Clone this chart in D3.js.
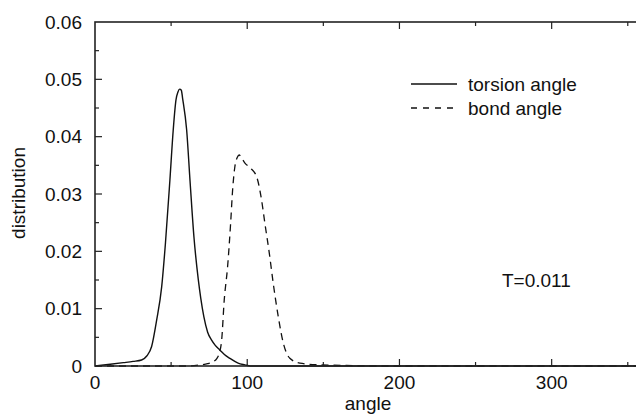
<!DOCTYPE html>
<html>
<head>
<meta charset="utf-8">
<script src="https://cdn.jsdelivr.net/npm/d3@7"></script>
<style>
  html, body { margin: 0; padding: 0; background: #fff; }
  svg { display: block; }
  text { font-family: "Liberation Sans", Arial, Helvetica, sans-serif; fill: #111; }
</style>
</head>
<body>
<div id="chart"></div>
<script>
// Torsion angle distribution (solid line).
const torsionX = [0, 10, 18.6, 25, 30.6, 34, 37.2, 40.5, 43.8, 46.3, 49.2, 51.4, 53.2, 54.5, 55.6, 56.7,
  57.6, 60.2, 62.4, 65, 67.8, 69.5, 71.5, 74, 76.6, 79, 82, 85, 88.6, 94, 98.5, 102, 360];
const torsionY = [0, 0.0003, 0.00058, 0.0008, 0.00105, 0.00174, 0.0034, 0.008, 0.0138, 0.0215, 0.0324, 0.0412, 0.0464, 0.0478, 0.0483, 0.0481,
  0.0466, 0.0412, 0.0324, 0.0225, 0.0152, 0.0118, 0.0086, 0.0059, 0.0045, 0.0036, 0.0028, 0.002, 0.00134, 0.0005, 0.0002, 0, 0];

// Bond angle distribution (dashed line).
const bondX = [0, 60, 69, 74, 77.7, 80, 81.6, 83.2, 84.9, 87.1, 89.1, 90.4, 91.9, 93.5, 94.7, 96.5, 98.5, 102.2, 106.2,
  109.4, 111.6, 114.5, 117.1, 120.4, 123.7, 128, 134.6, 147.7, 165, 180, 360];
const bondY = [0, 0, 0.0002, 0.0004, 0.00075, 0.0013, 0.0022, 0.0045, 0.0115, 0.0173, 0.0249, 0.0307, 0.0348, 0.0364, 0.0368, 0.0362, 0.0354, 0.0345, 0.033,
  0.029, 0.0249, 0.0197, 0.0144, 0.0086, 0.004, 0.00134, 0.0005, 0.0002, 0.0001, 0, 0];

const xTicks = [0, 100, 200, 300];
const yTicks = [0, 0.01, 0.02, 0.03, 0.04, 0.05, 0.06];
const seriesNames = ['torsion angle', 'bond angle'];
const note = 'T=0.011';

const W = 636, H = 415;
const margin = { left: 95, top: 22, right: -7, bottom: 49 };

const x = d3.scaleLinear().domain([0, 360]).range([margin.left, W - margin.right]);
const y = d3.scaleLinear().domain([0, 0.06]).range([H - margin.bottom, margin.top]);

const svg = d3.select('#chart').append('svg')
  .attr('width', W)
  .attr('height', H);

const AX = '#222';
const FS = 19;

// Series.
const line = d3.line().x(d => x(d[0])).y(d => y(d[1])).curve(d3.curveMonotoneX);

svg.append('path')
  .datum(d3.zip(bondX, bondY))
  .attr('d', line)
  .attr('fill', 'none')
  .attr('stroke', '#111')
  .attr('stroke-width', 1.3)
  .attr('stroke-dasharray', '7,5');

svg.append('path')
  .datum(d3.zip(torsionX, torsionY))
  .attr('d', line)
  .attr('fill', 'none')
  .attr('stroke', '#111')
  .attr('stroke-width', 1.4);

// Frame.
const x0 = x(0), x1 = x(360), y0 = y(0), y1 = y(0.06);
svg.append('rect')
  .attr('x', x0).attr('y', y1)
  .attr('width', x1 - x0).attr('height', y0 - y1)
  .attr('fill', 'none')
  .attr('stroke', AX)
  .attr('stroke-width', 1.6);

// Ticks: major and minor, inward, mirrored on the top and right.
const xMinor = d3.range(50, 360, 100);
const yMinor = d3.range(0.005, 0.06, 0.01);
const ticks = svg.append('g').attr('stroke', AX).attr('stroke-width', 1.2);

[[xTicks.slice(1), 7], [xMinor, 4]].forEach(([vals, len]) => {
  vals.forEach(v => {
    ticks.append('line').attr('x1', x(v)).attr('x2', x(v)).attr('y1', y0).attr('y2', y0 - len);
    ticks.append('line').attr('x1', x(v)).attr('x2', x(v)).attr('y1', y1).attr('y2', y1 + len);
  });
});
[[yTicks.slice(1, -1), 7], [yMinor, 4]].forEach(([vals, len]) => {
  vals.forEach(v => {
    ticks.append('line').attr('x1', x0).attr('x2', x0 + len).attr('y1', y(v)).attr('y2', y(v));
    ticks.append('line').attr('x1', x1).attr('x2', x1 - len).attr('y1', y(v)).attr('y2', y(v));
  });
});

// Tick labels.
svg.append('g').selectAll('text')
  .data(xTicks)
  .join('text')
  .attr('x', d => x(d))
  .attr('y', 388.5)
  .attr('text-anchor', 'middle')
  .attr('font-size', FS)
  .text(d => d);

svg.append('g').selectAll('text')
  .data(yTicks)
  .join('text')
  .attr('x', 82)
  .attr('y', d => y(d))
  .attr('dy', '0.35em')
  .attr('text-anchor', 'end')
  .attr('font-size', FS)
  .text(d => d === 0 ? '0' : d3.format('.2f')(d));

// Axis titles.
svg.append('text')
  .attr('x', 368)
  .attr('y', 410)
  .attr('text-anchor', 'middle')
  .attr('font-size', FS)
  .text('angle');

svg.append('text')
  .attr('transform', 'translate(25,193) rotate(-90)')
  .attr('text-anchor', 'middle')
  .attr('font-size', FS)
  .text('distribution');

// Legend.
const legend = svg.append('g');
seriesNames.forEach((name, i) => {
  const ly = 84 + i * 24;
  legend.append('line')
    .attr('x1', 411).attr('x2', 457)
    .attr('y1', ly).attr('y2', ly)
    .attr('stroke', '#111')
    .attr('stroke-width', 1.3)
    .attr('stroke-dasharray', i === 0 ? null : '6,6');
  legend.append('text')
    .attr('x', 468)
    .attr('y', ly)
    .attr('dy', '0.35em')
    .attr('font-size', FS)
    .text(name);
});

svg.append('text')
  .attr('x', 502)
  .attr('y', 287)
  .attr('font-size', FS)
  .text(note);
</script>
</body>
</html>
